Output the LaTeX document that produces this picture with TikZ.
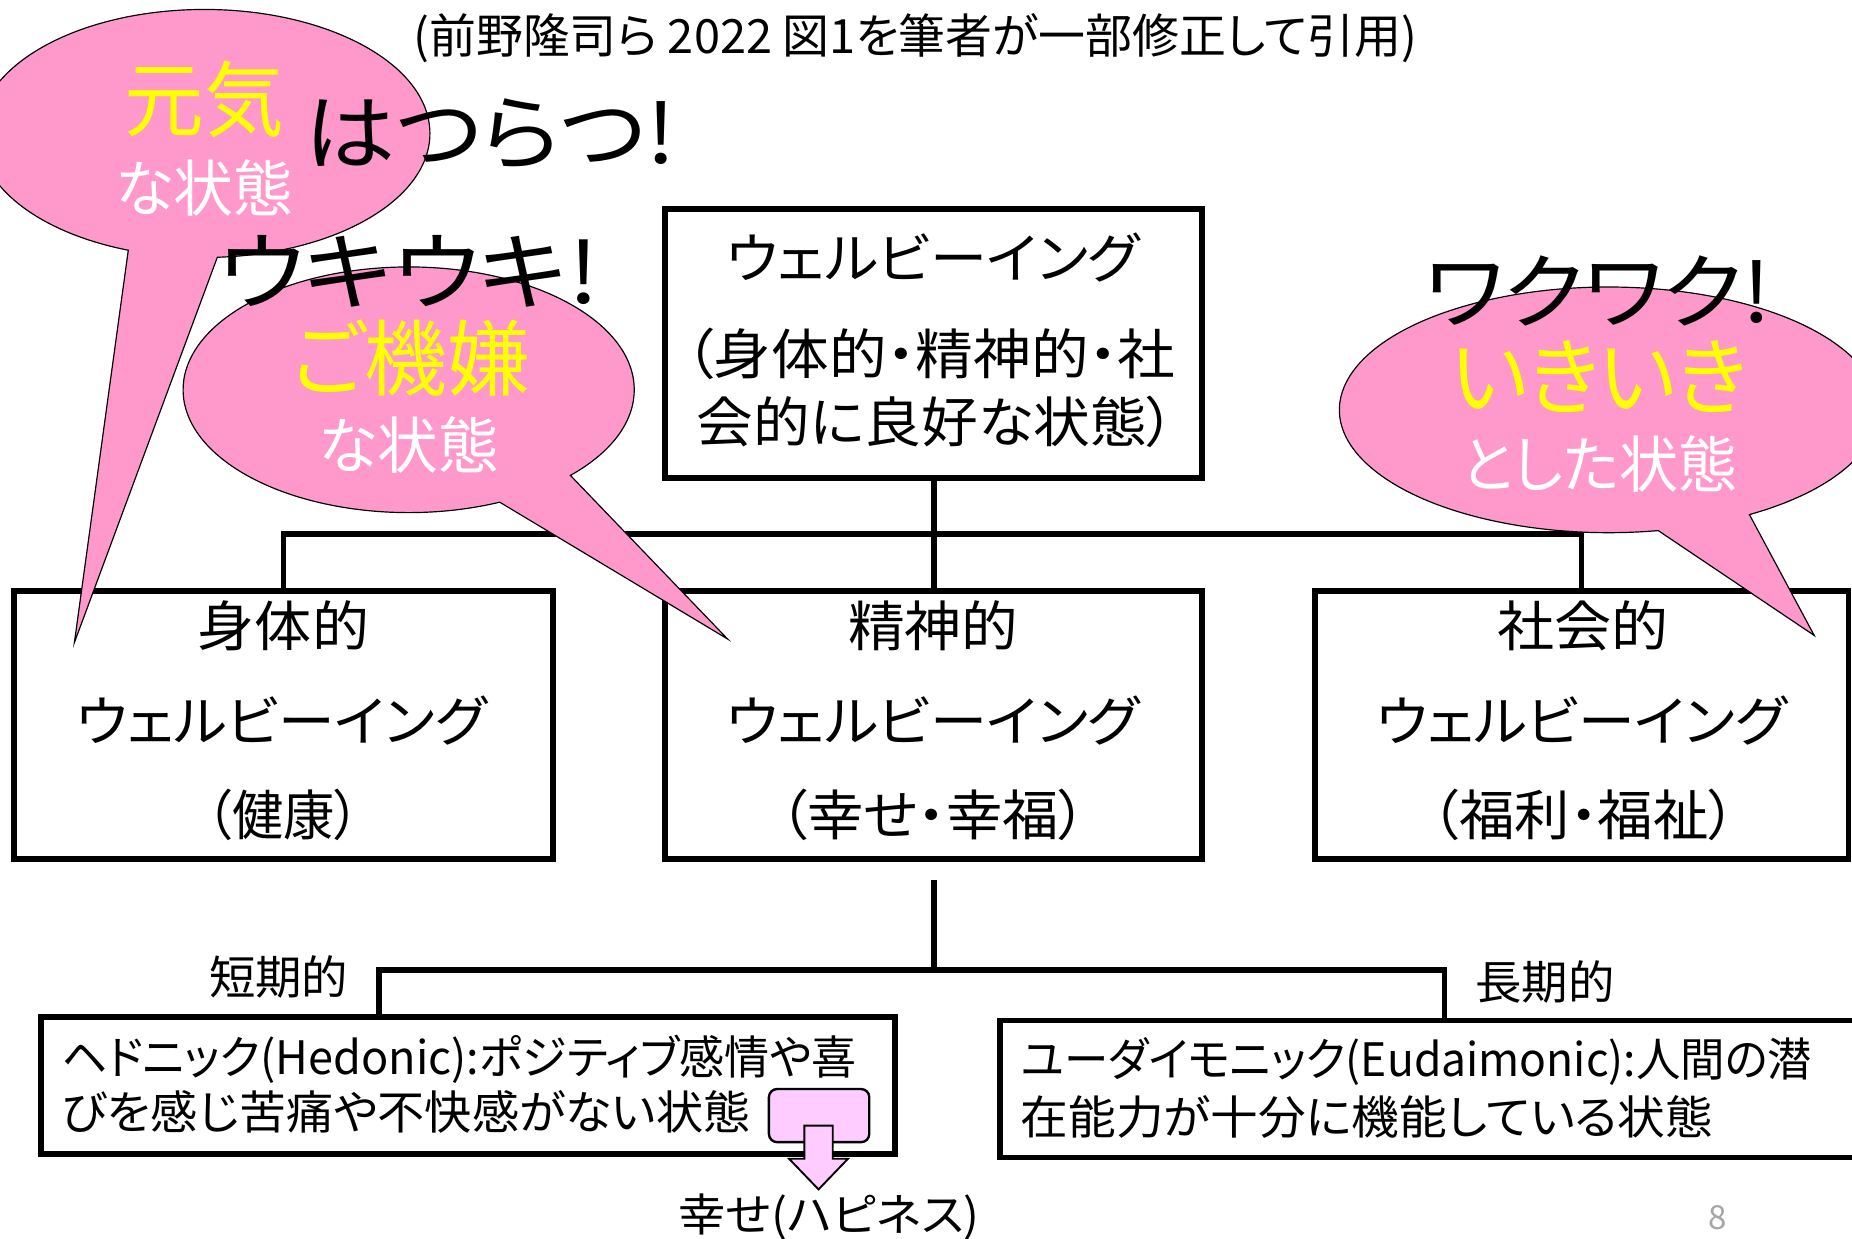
\documentclass[tikz,border=0pt]{standalone}
\usepackage{fontspec}
\setmainfont{Noto Sans CJK JP}[RawFeature={+palt}]
\usetikzlibrary{calc}
\definecolor{cpink}{HTML}{FF99CC}
\definecolor{lpink}{HTML}{FFCCFF}
\definecolor{cyel}{HTML}{FFFF00}
\definecolor{pgray}{HTML}{A6A6A6}
\newcommand\fitw[2]{\resizebox{#1}{\height}{#2}}
\newcommand\myfs[1]{\fontsize{#1}{#1}\selectfont}
\begin{document}
\begin{tikzpicture}[x=0.5pt,y=-0.5pt,
  box/.style={draw, line width=2.5pt, inner sep=0pt},
  conn/.style={line width=2.5pt},
  txt/.style={inner sep=0pt, anchor=center},
  callout/.style={fill=cpink, draw=black, line width=0.5pt, line join=miter},
]
\useasboundingbox (0,0) rectangle (1568,1049);
\clip (0,0) rectangle (1568,1049);
\fill[white] (0,0) rectangle (1568,1049);

% title
\node[txt, font=\myfs{20}] (title) at (775,32) {\fitw{425pt}{(前野隆司ら 2022 図1を筆者が一部修正して引用)}};

% boxes
\node[box, minimum width=227.5pt, minimum height=114pt] (top) at (790.5,291) {};
\node[box, minimum width=228pt, minimum height=113.5pt] (left) at (240,613.5) {};
\node[box, minimum width=227.5pt, minimum height=113.5pt] (mid) at (790.5,613.5) {};
\node[box, minimum width=226pt, minimum height=113.5pt] (right) at (1339,613.5) {};
\node[box, minimum width=361.5pt, minimum height=58pt] (hed) at (396.5,919) {};
\node[box, minimum width=364pt, minimum height=58pt] (eud) at (1211,922) {};

% connectors
\coordinate (bus) at (0,452);
\coordinate (mb) at (791,745);
\coordinate (bus2) at (0,821);
\coordinate (lx) at (321,0);
\coordinate (rx) at (1223,0);
\draw[conn] (top.south) -- (mid.north);
\draw[conn] (left.north) -- (left.north |- bus) -- (right.north |- bus) -- (right.north);
\draw[conn] (mb) -- (mb |- bus2);
\draw[conn] (hed.north -| lx) -- (lx |- bus2) -- (rx |- bus2) -- (eud.north -| rx);

% box texts
\node[txt, font=\myfs{23}] (t1) at (790,218) {\fitw{175pt}{ウェルビーイング}};
\node[txt, font=\myfs{23}] (t2) at (787.5,300) {\fitw{207.5pt}{（身体的・精神的・社}};
\node[txt, font=\myfs{23}] (t3) at (792.5,357) {\fitw{202.5pt}{会的に良好な状態）}};

\node[txt, font=\myfs{23}] (l1) at (240,530) {\fitw{72.5pt}{身体的}};
\node[txt, font=\myfs{23}] (l2) at (238.5,610) {\fitw{173.5pt}{ウェルビーイング}};
\node[txt, font=\myfs{23}] (l3) at (240,690) {\fitw{65pt}{（健康）}};

\node[txt, font=\myfs{23}] (m1) at (790,530) {\fitw{72pt}{精神的}};
\node[txt, font=\myfs{23}] (m2) at (790,610) {\fitw{175pt}{ウェルビーイング}};
\node[txt, font=\myfs{23}] (m3) at (790,690) {\fitw{130pt}{（幸せ・幸福）}};

\node[txt, font=\myfs{23}] (r1) at (1340,530) {\fitw{72.5pt}{社会的}};
\node[txt, font=\myfs{23}] (r2) at (1339,610) {\fitw{174pt}{ウェルビーイング}};
\node[txt, font=\myfs{23}] (r3) at (1341,690) {\fitw{129pt}{（福利・福祉）}};

% short / long term labels
\node[txt, font=\myfs{19.5}] (tanki) at (236,827) {\fitw{59pt}{短期的}};
\node[txt, font=\myfs{19.5}] (choki) at (1308,831) {\fitw{59pt}{長期的}};

% hedonic / eudaimonic texts
\node[txt, anchor=west, font=\myfs{19.5}] (h1) at (52,897) {\fitw{336.5pt}{ヘドニック(Hedonic):ポジティブ感情や喜}};
\node[txt, anchor=west, font=\myfs{19.5}] (h2) at (52,941) {\fitw{291.5pt}{びを感じ苦痛や不快感がない状態}};
\node[txt, anchor=west, font=\myfs{19.5}] (e1) at (864,899) {\fitw{335pt}{ユーダイモニック(Eudaimonic):人間の潜}};
\node[txt, anchor=west, font=\myfs{19.5}] (e2) at (864,946) {\fitw{293pt}{在能力が十分に機能している状態}};

% small pink box and block arrow
\node[draw, fill=lpink, rounded corners=3.5pt, line width=1pt, inner sep=0pt,
      minimum width=42.5pt, minimum height=22.5pt] (pk) at (693.5,944.5) {};
\draw[fill=lpink, line width=0.8pt, line join=miter]
  (681,953) -- (705,953) -- (705,981) -- (718,981) -- (693,1007) -- (668,981) -- (681,981) -- cycle;
\node[txt, font=\myfs{19}] (happy) at (702,1030) {\fitw{127.5pt}{幸せ(ハピネス)}};

% callouts
\coordinate (cA) at (173,113);
\coordinate (tA) at (63,544);
\draw[callout] (tA) -- ([shift={(273.3:95.5pt and 52.5pt)}]cA)
  arc[start angle=273.3, end angle=610.3, x radius=95.5pt, y radius=52.5pt] -- cycle;

\coordinate (cB) at (346,330);
\coordinate (tB) at (616,541);
\draw[callout] (tB) -- ([shift={(-44.2:95.5pt and 52pt)}]cB)
  arc[start angle=-44.2, end angle=293.8, x radius=95.5pt, y radius=52pt] -- cycle;

\coordinate (cC) at (1362,347);
\coordinate (tC) at (1536,538);
\draw[callout] (tC) -- ([shift={(-58.5:114pt and 52pt)}]cC)
  arc[start angle=-58.5, end angle=280.6, x radius=114pt, y radius=52pt] -- cycle;

% callout texts
\node[txt, font=\myfs{35}, text=cyel] (genki) at (173,84) {\fitw{67.5pt}{元気}};
\node[txt, font=\myfs{26}, text=white] (nA) at (173,159) {\fitw{75.5pt}{な状態}};
\node[txt, font=\myfs{35}, text=cyel] (gokigen) at (348,303) {\fitw{101pt}{ご機嫌}};
\node[txt, font=\myfs{26}, text=white] (nB) at (346,377) {\fitw{76.5pt}{な状態}};
\node[txt, font=\myfs{36}, text=cyel] (ikiiki) at (1354,319) {\fitw{125.5pt}{いきいき}};
\node[txt, font=\myfs{26}, text=white] (nC) at (1354,393) {\fitw{117pt}{とした状態}};

% exclamations
\node[txt, font=\myfs{35}] (hatsu) at (415,113) {\fitw{157pt}{はつらつ!}};
\node[txt, font=\myfs{36}] (uki) at (346,230) {\fitw{161pt}{ウキウキ!}};
\node[txt, font=\myfs{35}] (waku) at (1353,246) {\fitw{146.5pt}{ワクワク!}};

% page number
\node[txt, font=\myfs{14}, text=pgray] (pg) at (1454,1031) {8};
\end{tikzpicture}
\end{document}
